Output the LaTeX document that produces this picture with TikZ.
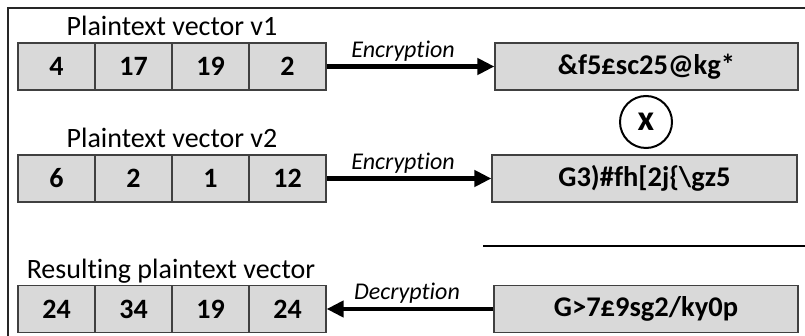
\documentclass[tikz,border=0pt]{standalone}
\usepackage{fontspec}
\setmainfont{Carlito}[Ligatures=NoCommon]
\usetikzlibrary{arrows.meta}
\definecolor{cellfill}{HTML}{D9D9D9}
\definecolor{cellline}{HTML}{404040}
\tikzset{
  cell/.style={draw=cellline, fill=cellfill, line width=1.2pt, minimum width=77pt,
    minimum height=47pt, inner sep=0pt, font=\fontsize{28}{32}\selectfont\bfseries},
  cipher/.style={draw=cellline, fill=cellfill, line width=1.2pt, minimum height=47pt,
    inner sep=0pt, font=\fontsize{28.5}{32}\selectfont\bfseries},
  title/.style={anchor=base, inner sep=0pt, font=\fontsize{28}{32}\selectfont},
  flow/.style={line width=4.5pt, -{Triangle[length=17pt,width=16pt]}},
  flowlabel/.style={anchor=base, inner sep=0pt, font=\fontsize{24}{28}\selectfont\itshape},
  frame/.style={line width=2pt, black!85},
}
\begin{document}
\begin{tikzpicture}[x=1pt,y=-1pt]
\useasboundingbox (0,0) rectangle (805,336);
% outer frame (top and left edges)
\draw[frame] (8,336) -- (8,8) -- (805,8);

% first plaintext vector
\node[title] (t1) at (172,36) {Plaintext vector v1};
\node[cell] (a1) at (56.5,66.5) {4};
\node[cell] (a2) at (133.5,66.5) {17};
\node[cell] (a3) at (210.5,66.5) {19};
\node[cell] (a4) at (287.5,66.5) {2};
\node[cipher, minimum width=303pt] (ca) at (646.5,66.5) {\&f5£sc25@kg*};

% multiplication operator
\node[draw, circle, line width=2pt, minimum size=52pt, inner sep=0pt,
  font=\fontsize{36}{38}\selectfont\bfseries] (op) at (646,122) {x};

% second plaintext vector
\node[title] (t2) at (172,148) {Plaintext vector v2};
\node[cell] (b1) at (56.5,178.5) {6};
\node[cell] (b2) at (133.5,178.5) {2};
\node[cell] (b3) at (210.5,178.5) {1};
\node[cell] (b4) at (287.5,178.5) {12};
\node[cipher, minimum width=305pt] (cb) at (644.5,178.5) {G3)\#fh[2j\{\textbackslash gz5};

% result line
\coordinate (r1) at (483,246);
\coordinate (r2) at (805,246);
\draw[line width=2pt] (r1) -- (r2);

% resulting vector
\node[title] (t3) at (171,279) {Resulting plaintext vector};
\node[cell] (c1) at (56.5,309) {24};
\node[cell] (c2) at (133.5,309) {34};
\node[cell] (c3) at (210.5,309) {19};
\node[cell] (c4) at (287.5,309) {24};
\node[cipher, minimum width=304pt] (cc) at (646,309) {G>7£9sg2/ky0p};

% encryption / decryption arrows
\draw[flow] (a4.east) -- (ca.west);
\draw[flow] (b4.east) -- (cb.west);
\draw[flow] (cc.west) -- (c4.east);
\node[flowlabel] (l1) at (403,58) {Encryption};
\node[flowlabel] (l2) at (403,170) {Encryption};
\node[flowlabel] (l3) at (407,300) {Decryption};
\end{tikzpicture}
\end{document}
